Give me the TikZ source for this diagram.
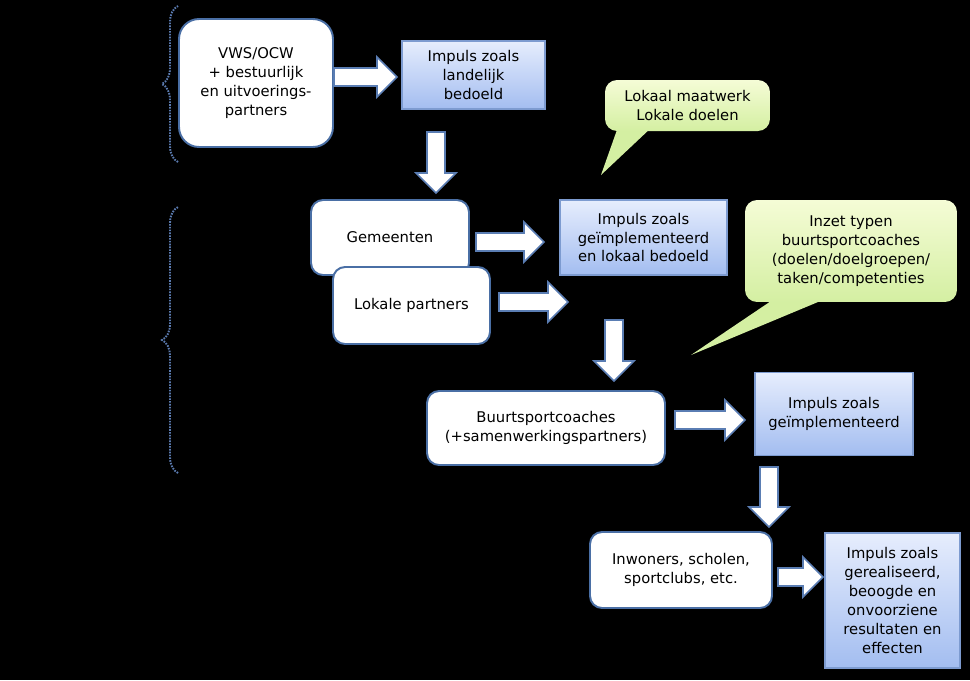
\documentclass[tikz,border=0pt]{standalone}
\usepackage{fontspec}
\setmainfont{DejaVu Sans}
\usetikzlibrary{calc}
\usetikzlibrary{decorations.pathreplacing}

\definecolor{boxline}{HTML}{4A6FA5}
\definecolor{blueline}{HTML}{7D9BD0}
\definecolor{bluetop}{HTML}{E6EDFD}
\definecolor{bluebottom}{HTML}{A3BDF0}
\definecolor{greentop}{HTML}{F5FCD6}
\definecolor{greenbottom}{HTML}{D4EFA2}
\definecolor{arrowline}{HTML}{5A7DB3}
\definecolor{braceline}{HTML}{5B7BB0}

\newcommand{\blockarrow}[2]{%
	\coordinate (ba-h) at ($(#2)!0.4cm!(#1)$);
	\draw [blockarrow] ($(#1)!0.18cm!90:(#2)$) -- ($(ba-h)!0.18cm!90:(#2)$) -- ($(ba-h)!0.4cm!90:(#2)$) -- (#2) -- ($(ba-h)!0.4cm!-90:(#2)$) -- ($(ba-h)!0.18cm!-90:(#2)$) -- ($(#1)!0.18cm!-90:(#2)$) -- cycle;}

\begin{document}
\begin{tikzpicture}[x = 0.02cm, y = -0.02cm,
	every node/.style = {font = \fontsize{8.4}{10.8}\selectfont, align = center, inner sep = 0pt},
	whitebox/.style = {draw = boxline, line width = 1.1pt, fill = white, rounded corners = 0.24cm},
	bluebox/.style = {draw = blueline, line width = 0.6pt, top color = bluetop, bottom color = bluebottom},
	callout/.style = {top color = greentop, bottom color = greenbottom, rounded corners = 0.24cm},
	pointer/.style = {fill = greenbottom},
	blockarrow/.style = {draw = arrowline, line width = 0.9pt, fill = white, line join = miter},
	bracket/.style = {draw = braceline, line width = 1.1pt, dash pattern = on 0.9pt off 0.7pt, decorate, decoration = {brace, amplitude = 0.32cm}}]
	\fill [black] (0, 0) rectangle (970, 680);
	\useasboundingbox (0, 0) rectangle (970, 680);

	\draw [bracket] (178, 162) -- (178, 6);
	\draw [bracket] (178, 473) -- (178, 207);

	\node [whitebox, rounded corners = 0.4cm, minimum width = 3.08cm, minimum height = 2.56cm] (vws) at (256, 83) {VWS/OCW\\+ bestuurlijk\\en uitvoerings-\\partners};
	\node [bluebox, minimum width = 2.86cm, minimum height = 1.36cm] (landelijk) at (473.5, 75) {Impuls zoals\\landelijk\\bedoeld};

	\fill [pointer] (618, 127) -- (601, 175) -- (652, 127) -- cycle;
	\node [callout, minimum width = 3.3cm, minimum height = 1.02cm] (maatwerk) at (687.5, 105.5) {Lokaal maatwerk\\Lokale doelen};

	\node [whitebox, minimum width = 3.16cm, minimum height = 1.5cm] (gemeenten) at (390, 237.5) {Gemeenten};
	\node [whitebox, minimum width = 3.14cm, minimum height = 1.54cm] (partners) at (411.5, 305.5) {Lokale partners};
	\node [bluebox, minimum width = 3.34cm, minimum height = 1.5cm] (lokaal) at (643.5, 237.5) {Impuls zoals\\geïmplementeerd\\en lokaal bedoeld};

	\fill [pointer] (777, 297) -- (691, 355) -- (830, 297) -- cycle;
	\node [callout, minimum width = 4.24cm, minimum height = 2.04cm] (inzet) at (851, 251) {Inzet typen\\buurtsportcoaches\\(doelen/doelgroepen/\\taken/competenties};

	\node [whitebox, minimum width = 4.76cm, minimum height = 1.48cm] (coaches) at (546, 428) {Buurtsportcoaches\\(+samenwerkingspartners)};
	\node [bluebox, minimum width = 3.16cm, minimum height = 1.66cm] (geimpl) at (834, 414) {Impuls zoals\\geïmplementeerd};

	\node [whitebox, minimum width = 3.64cm, minimum height = 1.52cm] (inwoners) at (681, 570) {Inwoners, scholen,\\sportclubs, etc.};
	\node [bluebox, minimum width = 2.7cm, minimum height = 2.7cm] (gerealiseerd) at (892.5, 600.5) {Impuls zoals\\gerealiseerd,\\beoogde en\\onvoorziene\\resultaten en\\effecten};

	\coordinate (a1s) at (334, 77);
	\coordinate (a1e) at (397, 77);
	\coordinate (a2s) at (436, 132);
	\coordinate (a2e) at (436, 193);
	\coordinate (a3s) at (476, 242);
	\coordinate (a3e) at (544, 242);
	\coordinate (a4s) at (499, 302);
	\coordinate (a4e) at (568, 302);
	\coordinate (a5s) at (614, 320);
	\coordinate (a5e) at (614, 381);
	\coordinate (a6s) at (675, 420);
	\coordinate (a6e) at (745, 420);
	\coordinate (a7s) at (769, 467);
	\coordinate (a7e) at (769, 527);
	\coordinate (a8s) at (778, 577);
	\coordinate (a8e) at (823, 577);
	\foreach \a in {a1, a2, a3, a4, a5, a6, a7, a8}
		\blockarrow{\a s}{\a e};
\end{tikzpicture}
\end{document}
